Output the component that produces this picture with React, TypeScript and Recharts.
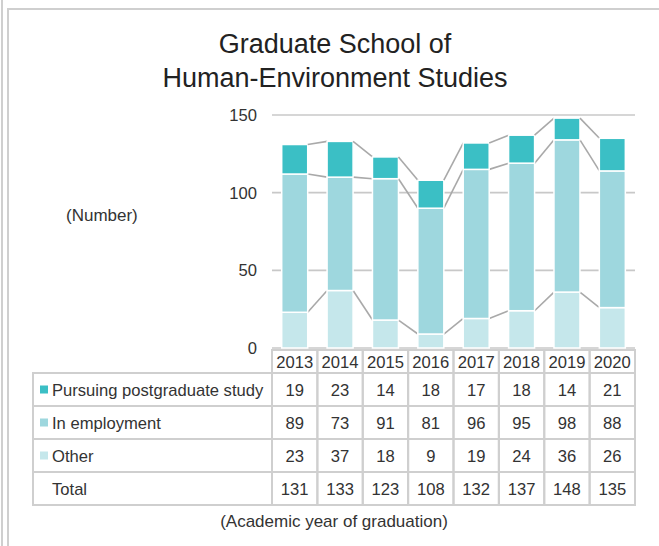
import React from 'react';
import { BarChart, Bar, XAxis, YAxis, CartesianGrid } from 'recharts';

const years = ['2013', '2014', '2015', '2016', '2017', '2018', '2019', '2020'];
const pursuing = [19, 23, 14, 18, 17, 18, 14, 21];
const employment = [89, 73, 91, 81, 96, 95, 98, 88];
const other = [23, 37, 18, 9, 19, 24, 36, 26];
const totals = [131, 133, 123, 108, 132, 137, 148, 135];
const yTicks = [0, 50, 100, 150];

const seriesNames = ['Pursuing postgraduate study', 'In employment', 'Other', 'Total'];
const colors = ['#3bbfc5', '#9ed7de', '#c5e7eb'];

const data = years.map((y, i) => ({
  year: y,
  other: other[i],
  employment: employment[i],
  pursuing: pursuing[i],
}));

// stacking order, bottom to top
const stackOrder = [other, employment, pursuing];

const GAP = 0.214; // barCategoryGap fraction
const FONT = '"Liberation Sans", Arial, sans-serif';
const GRID = '#cfcfcf';
const FS = 16.6;

// bar segment that also draws the series line to the next bar
const makeShape = (level: number) => (props: any) => {
  const { x, y, width, height, fill, index } = props;
  const own = stackOrder[level][index];
  const ppu = height / own;
  let below = 0;
  for (let s = 0; s < level; s++) below += stackOrder[s][index];
  const zeroY = y + height + below * ppu;
  let line = null;
  if (index < years.length - 1) {
    let nextTop = 0;
    for (let s = 0; s <= level; s++) nextTop += stackOrder[s][index + 1];
    const step = width / (1 - 2 * GAP);
    line = (
      <line x1={x + width} y1={y} x2={x + step} y2={zeroY - nextTop * ppu}
        stroke="#a9a9a9" strokeWidth={1.6} />
    );
  }
  return (
    <g>
      <rect x={x} y={y} width={width} height={height} fill={fill} stroke="#fff" strokeWidth={1.5} />
      {line}
    </g>
  );
};

const rowValues = [pursuing, employment, other, totals];

// each x tick draws one column of the data table
const TableColumn = (props: any) => {
  const { x, y, payload } = props;
  const i = payload.index;
  const half = payload.offset || 22.7;
  const left = x - half;
  const w = half * 2;
  const top = y + 2;
  const headH = 23;
  const rowH = 33;
  const cells = [];
  cells.push(
    <g key="h">
      <rect x={left} y={top} width={w} height={headH} fill="none" stroke={GRID} strokeWidth={2} />
      <text x={x} y={top + headH / 2 + 6} textAnchor="middle" fontSize={FS} fill="#333" fontFamily={FONT}>{payload.value}</text>
    </g>
  );
  rowValues.forEach((vals, r) => {
    const ry = top + headH + r * rowH;
    cells.push(
      <g key={r}>
        <rect x={left} y={ry} width={w} height={rowH} fill="none" stroke={GRID} strokeWidth={2} />
        <text x={x} y={ry + rowH / 2 + 6} textAnchor="middle" fontSize={FS} fill="#333" fontFamily={FONT}>{vals[i]}</text>
      </g>
    );
  });
  if (i === 0) {
    const labelLeft = 33;
    seriesNames.forEach((name, r) => {
      const ry = top + headH + r * rowH;
      cells.push(
        <g key={'l' + r}>
          <rect x={labelLeft} y={ry} width={left - labelLeft} height={rowH} fill="none" stroke={GRID} strokeWidth={2} />
          {r < 3 && <rect x={40} y={ry + rowH / 2 - 4} width={8} height={8} fill={colors[r]} />}
          <text x={52} y={ry + rowH / 2 + 6} fontSize={FS} fill="#333" fontFamily={FONT}>{name}</text>
        </g>
      );
    });
  }
  return <g>{cells}</g>;
};

export default function App() {
  return (
    <div style={{ position: 'absolute', left: 0, top: 0, width: 659, height: 546, overflow: 'hidden', background: '#fff', fontFamily: FONT, color: '#333' }}>
      <div style={{ position: 'absolute', left: 1, top: 0, width: 2, height: 546, background: '#cfcfcf' }} />
      <div style={{ position: 'absolute', left: 7, top: 8, width: 700, height: 600, border: '2px solid #cfcfcf' }} />
      <div style={{ position: 'absolute', left: 0, top: 27, width: 670, textAlign: 'center', fontSize: 27, lineHeight: '34px', color: '#222' }}>
        Graduate School of<br />Human-Environment Studies
      </div>
      <div style={{ position: 'absolute', left: 66, top: 206, fontSize: 17 }}>(Number)</div>
      <div style={{ position: 'absolute', left: 0, top: 512, width: 668, textAlign: 'center', fontSize: 17 }}>
        (Academic year of graduation)
      </div>
      <div style={{ position: 'absolute', left: 0, top: 0 }}>
        <BarChart width={659} height={546} data={data}
          margin={{ top: 115, right: 24, bottom: 0, left: 212 }}
          barCategoryGap={`${GAP * 100}%`}>
          <CartesianGrid vertical={false} stroke="#c8c8c8" strokeWidth={1.6} />
          <XAxis dataKey="year" height={198} axisLine={false} tickLine={false}
            tickSize={0} tickMargin={0} interval={0} tick={<TableColumn />} />
          <YAxis width={60} domain={[0, 150]} ticks={yTicks} axisLine={false} tickLine={false}
            tickMargin={9} tick={{ fontSize: FS, fill: '#333', fontFamily: FONT }} />
          <Bar dataKey="other" stackId="a" fill={colors[2]} shape={makeShape(0)} isAnimationActive={false} />
          <Bar dataKey="employment" stackId="a" fill={colors[1]} shape={makeShape(1)} isAnimationActive={false} />
          <Bar dataKey="pursuing" stackId="a" fill={colors[0]} shape={makeShape(2)} isAnimationActive={false} />
        </BarChart>
      </div>
    </div>
  );
}
